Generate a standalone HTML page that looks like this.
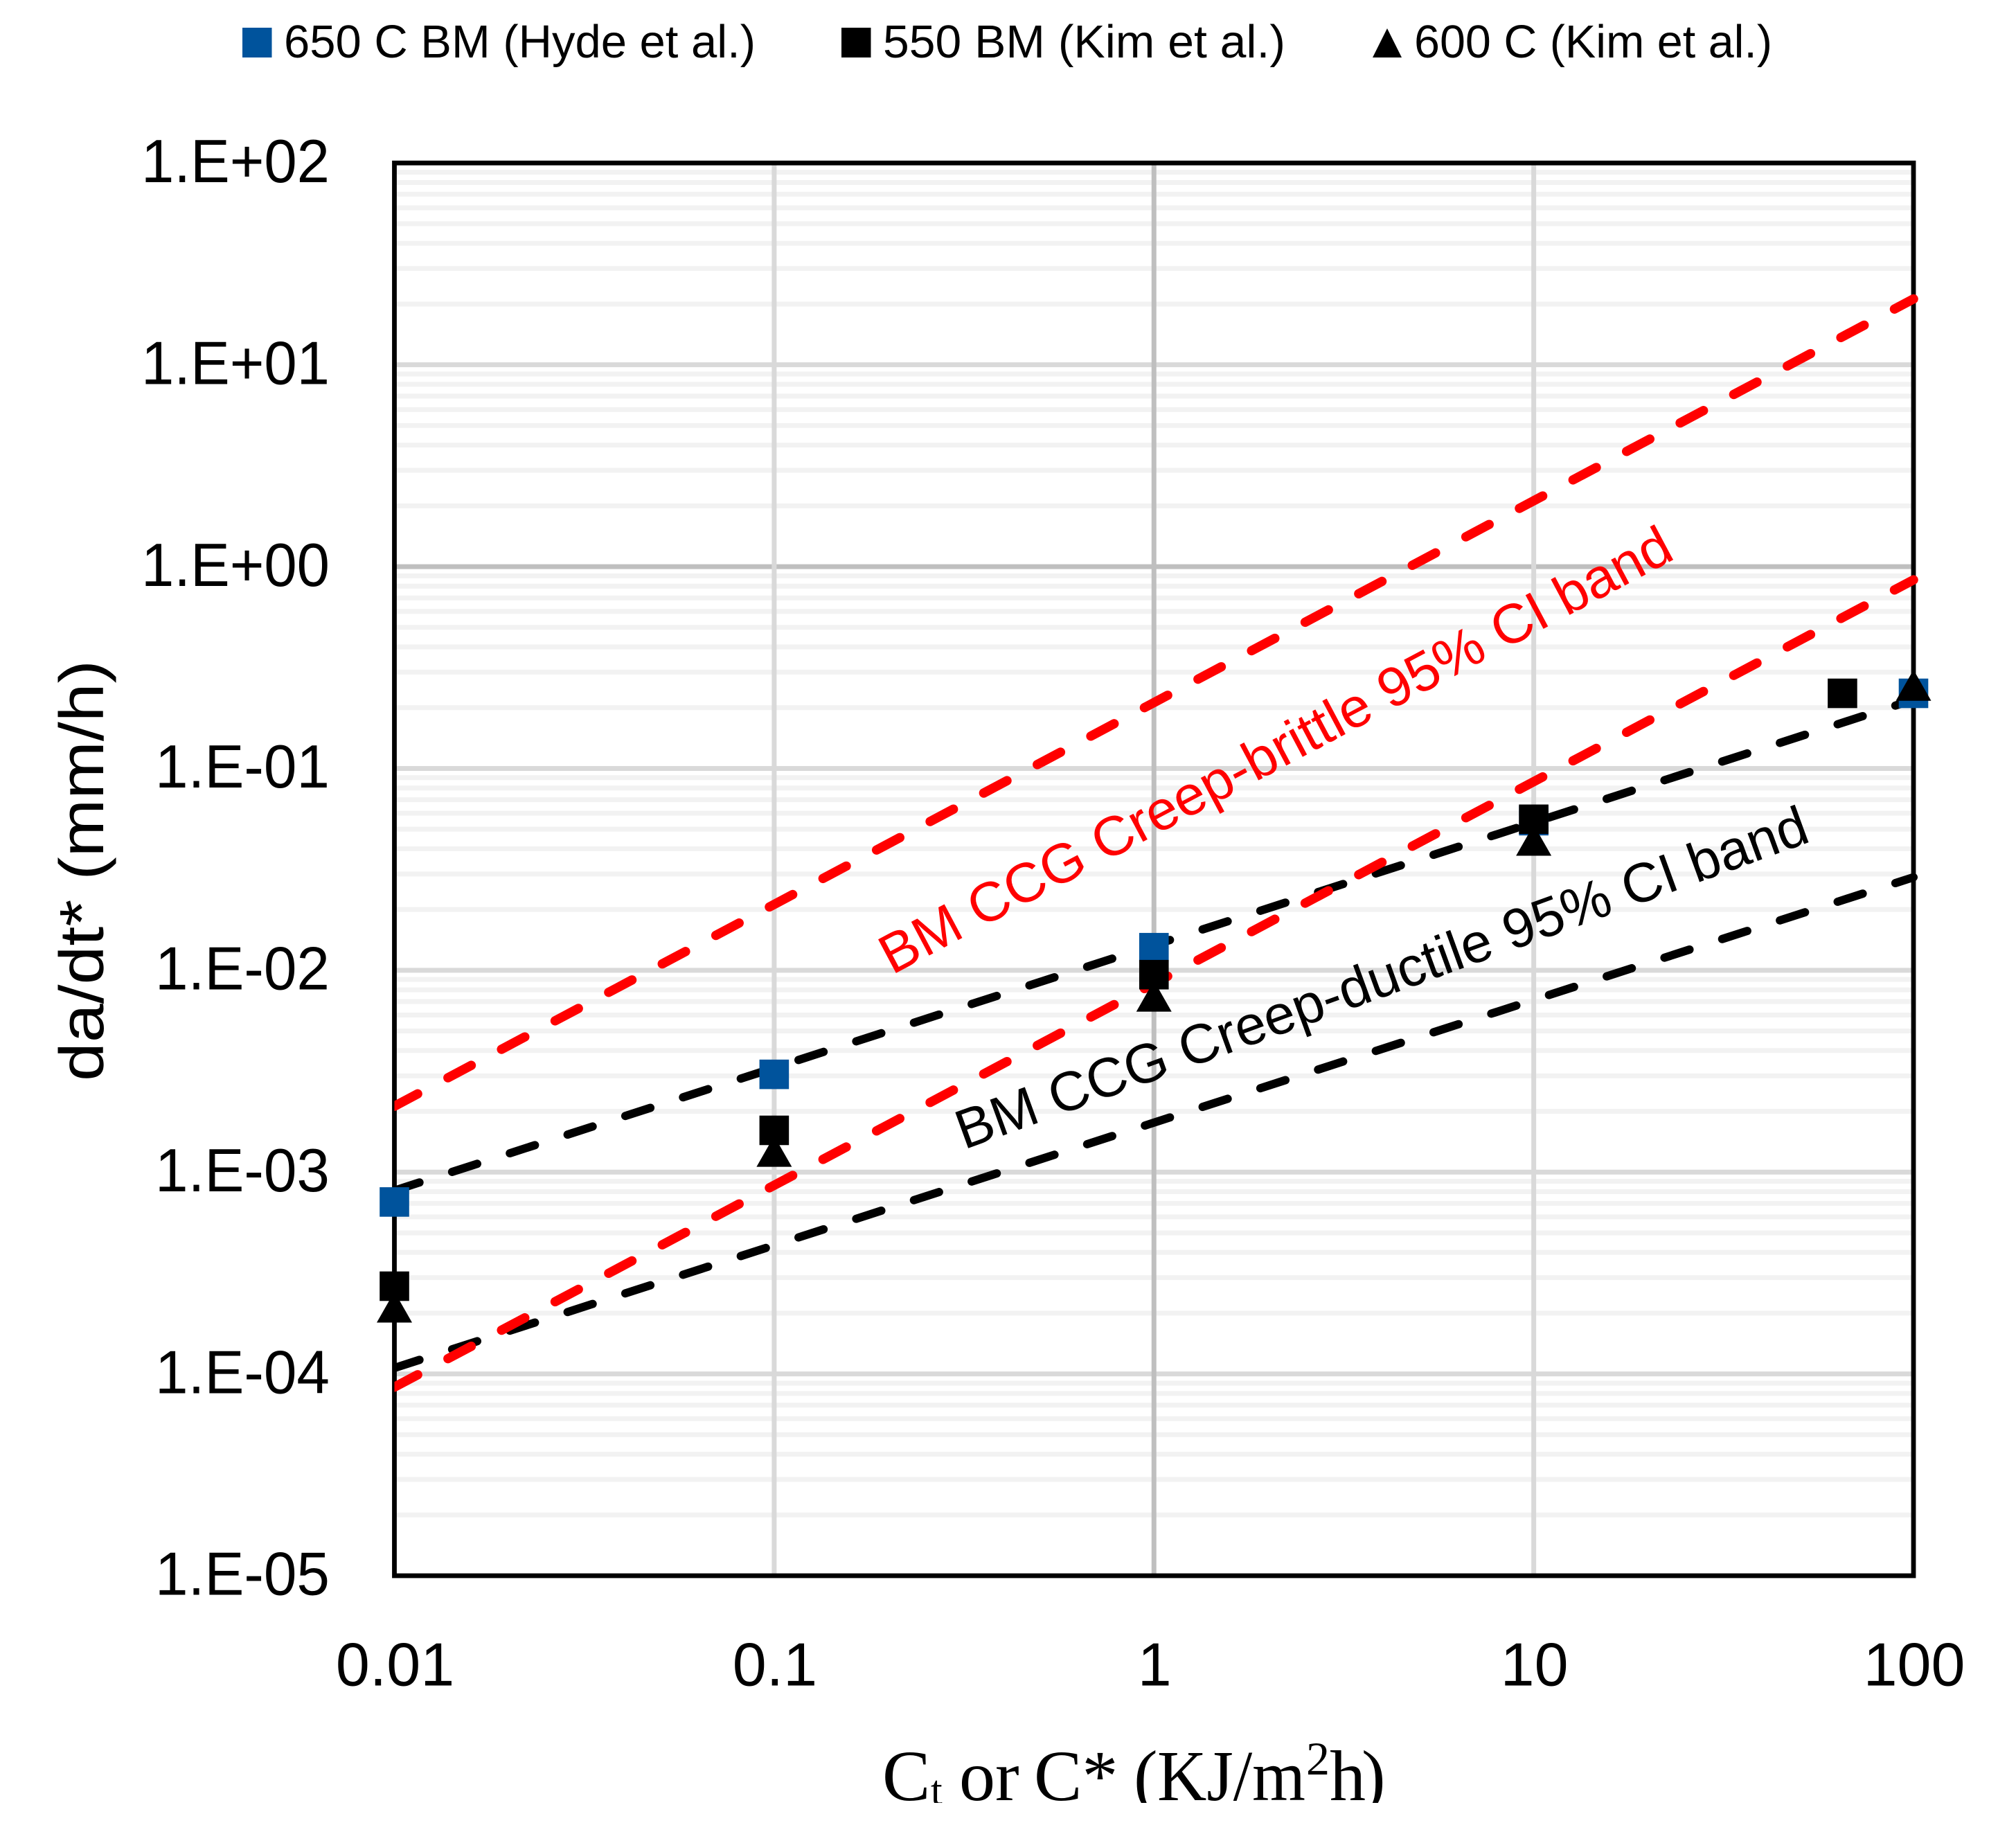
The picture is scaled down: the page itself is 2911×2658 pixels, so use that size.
<!DOCTYPE html>
<html lang="en">
<head>
<meta charset="utf-8">
<title>da/dt* vs Ct or C*</title>
<style>
html,body{margin:0;padding:0;background:#fff;}
svg{display:block;}
.calibri{font-family:"Liberation Sans",sans-serif;}
.times{font-family:"Liberation Serif",serif;}
</style>
</head>
<body>
<svg id="chart" xmlns="http://www.w3.org/2000/svg" width="2911" height="2658" viewBox="0 0 2911 2658">
  <defs>
    <clipPath id="line-clip"><rect x="569.5" y="0" width="2341" height="2658"/></clipPath>
    <clipPath id="xtitle-clip"><rect x="0" y="2400" width="2911" height="203"/></clipPath>
  </defs>
  <rect x="0" y="0" width="2911" height="2658" fill="#fff"/>
  <g id="grid"></g>
  <g id="ticks"></g>
  <rect x="569.5" y="235.3" width="2193.5" height="2039.7" fill="none" stroke="#000" stroke-width="6.8"/>
  <g id="bands" clip-path="url(#line-clip)"></g>
  <g id="points"></g>

  <g class="calibri" font-size="67" fill="#000">
    <g>
      <rect x="350" y="40" width="42.5" height="43" fill="#00539c"/>
      <text x="410" y="83" textLength="681" lengthAdjust="spacingAndGlyphs">650 C BM (Hyde et al.)</text>
    </g>
    <g>
      <rect x="1215" y="40" width="42.5" height="43" fill="#000"/>
      <text x="1275" y="83" textLength="581" lengthAdjust="spacingAndGlyphs">550 BM (Kim et al.)</text>
    </g>
    <g>
      <polygon points="2003,41 2024,83 1982,83" fill="#000"/>
      <text x="2042" y="83" textLength="517" lengthAdjust="spacingAndGlyphs">600 C (Kim et al.)</text>
    </g>
  </g>

  <text class="calibri" font-size="90" fill="#000" transform="translate(149 1561) rotate(-90)" textLength="608" lengthAdjust="spacingAndGlyphs">da/dt* (mm/h)</text>

  <g clip-path="url(#xtitle-clip)">
    <text class="times" font-size="104" fill="#000" y="2599"><tspan x="1274">C</tspan><tspan x="1344" y="2605" font-size="60">t</tspan><tspan x="1385" y="2599">or</tspan><tspan x="1493">C*</tspan><tspan x="1637">(</tspan><tspan x="1671" textLength="214" lengthAdjust="spacingAndGlyphs">KJ/m</tspan><tspan x="1886" y="2562" font-size="68">2</tspan><tspan x="1920" y="2599">h</tspan><tspan x="1966">)</tspan></text>
  </g>

  <text class="calibri" font-size="80" fill="#ff0000" transform="translate(1288 1408) rotate(-28)" textLength="1283" lengthAdjust="spacingAndGlyphs">BM CCG Creep-brittle 95% CI band</text>
  <text class="calibri" font-size="80" fill="#000" transform="translate(1392 1660) rotate(-20)" textLength="1303" lengthAdjust="spacingAndGlyphs">BM CCG Creep-ductile 95% CI band</text>
</svg>

<script>
// Axis tick labels
const xTickLabels = ["0.01", "0.1", "1", "10", "100"];
const xTickValues = [0.01, 0.1, 1, 10, 100];
const yTickLabels = ["1.E+02", "1.E+01", "1.E+00", "1.E-01", "1.E-02", "1.E-03", "1.E-04", "1.E-05"];
const yTickValues = [100, 10, 1, 0.1, 0.01, 0.001, 0.0001, 0.00001];

// Measured data series
const hydeX = [0.01, 0.1, 1, 10, 100];
const hydeY = [0.000711, 0.00305, 0.01294, 0.0551, 0.2356];
const kim550X = [0.01, 0.1, 1, 10, 65];
const kim550Y = [0.000272, 0.00161, 0.00951, 0.0560, 0.2356];
const kim600X = [0.01, 0.1, 1, 10, 100];
const kim600Y = [0.000215, 0.00127, 0.00746, 0.0442, 0.259];

// 95% CI band lines
const bandX = [0.01, 100];
const brittleUpperY = [0.00212, 21.2];
const brittleLowerY = [0.000086, 0.86];
const ductileUpperY = [0.00081, 0.219];
const ductileLowerY = [0.000107, 0.0289];

const NS = "http://www.w3.org/2000/svg";
const PLOT_LEFT = 569.5, PLOT_RIGHT = 2763, PLOT_TOP = 235.3, PLOT_BOTTOM = 2275;
const X_MIN = 0.01, X_MAX = 100, Y_MIN = 0.00001, Y_MAX = 100;

function xScale(v) {
  return PLOT_LEFT + (Math.log10(v) - Math.log10(X_MIN)) / (Math.log10(X_MAX) - Math.log10(X_MIN)) * (PLOT_RIGHT - PLOT_LEFT);
}
function yScale(v) {
  return PLOT_TOP + (Math.log10(Y_MAX) - Math.log10(v)) / (Math.log10(Y_MAX) - Math.log10(Y_MIN)) * (PLOT_BOTTOM - PLOT_TOP);
}
function make(tag, attrs, parent) {
  const node = document.createElementNS(NS, tag);
  for (const k in attrs) node.setAttribute(k, attrs[k]);
  parent.appendChild(node);
  return node;
}

const gridG = document.getElementById("grid");
const ticksG = document.getElementById("ticks");
const bandsG = document.getElementById("bands");
const pointsG = document.getElementById("points");

// Minor horizontal gridlines
for (let d = 0; d < yTickValues.length - 1; d++) {
  for (let m = 2; m <= 9; m++) {
    const yv = yTickValues[d + 1] * m;
    const minor = make("line", {x1: PLOT_LEFT, x2: PLOT_RIGHT, y1: yScale(yv), y2: yScale(yv), stroke: "#f2f2f2", "stroke-width": 7}, gridG);
    
    
  }
}
// Major horizontal gridlines
yTickValues.forEach(function (v) {
  if (v === Y_MIN || v === Y_MAX) return;
  const major = make("line", {x1: PLOT_LEFT, x2: PLOT_RIGHT, y1: yScale(v), y2: yScale(v), stroke: v === 1 ? "#bfbfbf" : "#d9d9d9", "stroke-width": 7}, gridG);
  
  
});
// Vertical gridlines
xTickValues.forEach(function (v) {
  if (v === X_MIN || v === X_MAX) return;
  const vert = make("line", {x1: xScale(v), x2: xScale(v), y1: PLOT_TOP, y2: PLOT_BOTTOM, stroke: v === 1 ? "#bfbfbf" : "#d9d9d9", "stroke-width": 7}, gridG);
  
  
});

// Tick labels
yTickLabels.forEach(function (label, i) {
  const t = make("text", {x: 476, y: yScale(yTickValues[i]) + 27.7, "text-anchor": "end", "font-size": 88, fill: "#000", "class": "calibri", textLength: label.indexOf("+") >= 0 ? 272 : 252, lengthAdjust: "spacingAndGlyphs"}, ticksG);
  
  
  t.textContent = label;
});
xTickLabels.forEach(function (label, i) {
  const t = make("text", {x: xScale(xTickValues[i]) + 1, y: 2433.5, "text-anchor": "middle", "font-size": 88, fill: "#000", "class": "calibri"}, ticksG);
  
  
  t.textContent = label;
});

// CI band lines
function drawBand(ys, color, width, name) {
  const line = make("line", {x1: xScale(bandX[0]), y1: yScale(ys[0]), x2: xScale(bandX[1]), y2: yScale(ys[1]), stroke: color, "stroke-width": width, "stroke-linecap": "round", "stroke-dasharray": "38 49.6"}, bandsG);
  
  
}
drawBand(ductileUpperY, "#000", 12, "ductile-upper-line");
drawBand(ductileLowerY, "#000", 12, "ductile-lower-line");
drawBand(brittleUpperY, "#ff0000", 13.5, "brittle-upper-line");
drawBand(brittleLowerY, "#ff0000", 13.5, "brittle-lower-line");

// Markers
function drawSquares(xs, ys, color, name) {
  xs.forEach(function (xv, i) {
    const cx = xScale(xv), cy = yScale(ys[i]);
    const sq = make("rect", {x: cx - 21.3, y: cy - 21.3, width: 42.6, height: 42.6, fill: color}, pointsG);
    
    
  });
}
function drawTriangles(xs, ys, color, name) {
  xs.forEach(function (xv, i) {
    const cx = xScale(xv), cy = yScale(ys[i]);
    const tri = make("polygon", {points: cx + "," + (cy - 22) + " " + (cx + 25.5) + "," + (cy + 22.7) + " " + (cx - 25.5) + "," + (cy + 22.7), fill: color}, pointsG);
    
    
  });
}
drawSquares(hydeX, hydeY, "#00539c", "point-hyde-650");
drawSquares(kim550X, kim550Y, "#000", "point-kim-550");
drawTriangles(kim600X, kim600Y, "#000", "point-kim-600");
</script>
</body>
</html>
